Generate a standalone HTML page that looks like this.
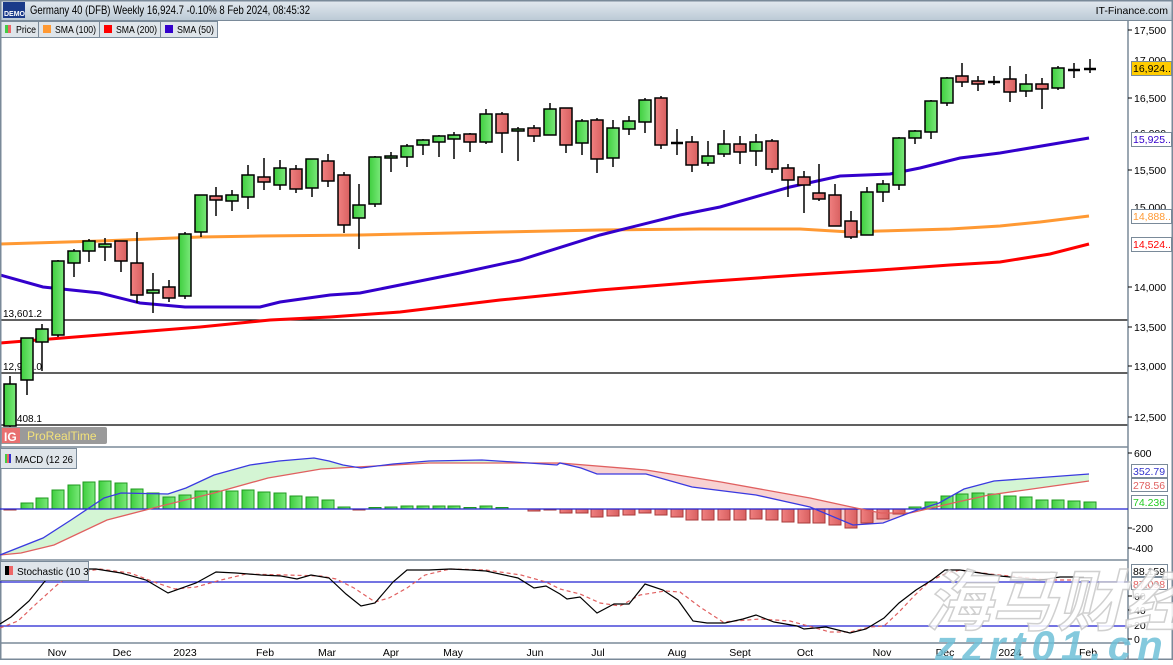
<!DOCTYPE html>
<html><head><meta charset="utf-8"><style>
body{margin:0;width:1173px;height:660px;overflow:hidden;background:#fff;font-family:"Liberation Sans",sans-serif}
svg text{font-family:"Liberation Sans","Noto Sans CJK SC",sans-serif}
</style></head><body>
<svg width="1173" height="660" viewBox="0 0 1173 660" xmlns="http://www.w3.org/2000/svg">
<defs>
<linearGradient id="tb" x1="0" y1="0" x2="0" y2="1"><stop offset="0" stop-color="#e4eaf0"/><stop offset="1" stop-color="#bccad6"/></linearGradient>
<linearGradient id="gg" x1="0" y1="0" x2="1" y2="0"><stop offset="0" stop-color="#3fcf3f"/><stop offset="1" stop-color="#7ae87a"/></linearGradient>
<linearGradient id="rg" x1="0" y1="0" x2="1" y2="0"><stop offset="0" stop-color="#f08080"/><stop offset="1" stop-color="#d86060"/></linearGradient>
<clipPath id="aboveRed"><polygon points="0,447 0,555 21,553 54,545 107,520 161,506 214,493 268,478 321,469 357,467 429,463 557,463 560,463 646,470 721,482 810,498 856,508 881,513 910,513 953,503 989,495 1089,481 1089,447"/></clipPath>
<clipPath id="belowRed"><polygon points="0,560 0,555 21,553 54,545 107,520 161,506 214,493 268,478 321,469 357,467 429,463 557,463 560,463 646,470 721,482 810,498 856,508 881,513 910,513 953,503 989,495 1089,481 1089,560"/></clipPath>
<clipPath id="cm"><rect x="0" y="448" width="76" height="21"/></clipPath>
<clipPath id="cs"><rect x="0" y="561" width="88" height="20"/></clipPath>
</defs>
<!-- title bar -->
<rect x="0" y="0" width="1173" height="20" fill="url(#tb)"/>
<rect x="3" y="2" width="22" height="16" fill="#1a3a8a"/>
<text x="4" y="16" font-size="7" fill="#fff" font-weight="bold">DEMO</text>
<text x="30" y="14" font-size="12" fill="#000" textLength="280" lengthAdjust="spacingAndGlyphs">Germany 40 (DFB) Weekly 16,924.7 -0.10% 8 Feb 2024, 08:45:32</text>
<text x="1168" y="14" font-size="10.5" fill="#000" text-anchor="end">IT-Finance.com</text>
<line x1="0" y1="20.5" x2="1173" y2="20.5" stroke="#7a8a99"/>
<!-- legend -->
<g font-size="10.5" fill="#000">
<rect x="0.5" y="21.5" width="38" height="16" fill="#dfe5ea" stroke="#7a8a99"/><rect x="5" y="25" width="3" height="8" fill="#4c4"/><rect x="8" y="25" width="3" height="8" fill="#e66"/><text x="16" y="33" textLength="20" lengthAdjust="spacingAndGlyphs">Price</text>
<rect x="38.5" y="21.5" width="61" height="16" fill="#dfe5ea" stroke="#7a8a99"/><rect x="43" y="25" width="8" height="8" fill="#f93"/><text x="55" y="33" textLength="41" lengthAdjust="spacingAndGlyphs">SMA (100)</text>
<rect x="99.5" y="21.5" width="61" height="16" fill="#dfe5ea" stroke="#7a8a99"/><rect x="104" y="25" width="8" height="8" fill="#f00"/><text x="116" y="33" textLength="41" lengthAdjust="spacingAndGlyphs">SMA (200)</text>
<rect x="160.5" y="21.5" width="57" height="16" fill="#dfe5ea" stroke="#7a8a99"/><rect x="165" y="25" width="8" height="8" fill="#30c"/><text x="177" y="33" textLength="37" lengthAdjust="spacingAndGlyphs">SMA (50)</text>
</g>
<!-- horizontal levels -->
<g stroke="#000" stroke-width="1.2">
<line x1="0" y1="320" x2="1128" y2="320"/><line x1="0" y1="373" x2="1128" y2="373"/><line x1="0" y1="425" x2="1128" y2="425"/>
</g>
<g font-size="10" fill="#000"><text x="3" y="317">13,601.2</text><text x="3" y="370">12,984.0</text><text x="3" y="422">12,408.1</text></g>
<!-- SMAs -->
<polyline fill="none" stroke="#f00" stroke-width="3" points="0,343 100,335 200,327 270,320 330,317 400,312 500,300 600,290 700,282 800,275 880,270 950,265 1000,262 1050,254 1089,244"/>
<polyline fill="none" stroke="#f93" stroke-width="3" points="0,244 100,241 200,237 260,236 360,235 500,232 600,230 700,229 800,229 850,232 880,231 950,229 1000,226 1040,222 1089,216"/>
<polyline fill="none" stroke="#30c" stroke-width="3" points="0,275 43,287 100,293 140,303 185,307 260,307 280,302 330,295 360,293 400,285 460,273 520,260 600,235 680,215 720,207 790,187 840,176 890,174 920,168 960,158 1000,153 1089,138"/>
<!-- candles -->
<g stroke="#000" stroke-width="1.5">
<line x1="10" y1="376" x2="10" y2="430"/><rect x="4" y="384" width="12" height="42" fill="url(#gg)"/>
<line x1="27" y1="338" x2="27" y2="395"/><rect x="21" y="338" width="12" height="42" fill="url(#gg)"/>
<line x1="42" y1="324" x2="42" y2="371"/><rect x="36" y="329" width="12" height="13" fill="url(#gg)"/>
<line x1="58" y1="260" x2="58" y2="337"/><rect x="52" y="261" width="12" height="74" fill="url(#gg)"/>
<line x1="74" y1="249" x2="74" y2="277"/><rect x="68" y="251" width="12" height="12" fill="url(#gg)"/>
<line x1="89" y1="239" x2="89" y2="262"/><rect x="83" y="241" width="12" height="10" fill="url(#gg)"/>
<line x1="105" y1="238" x2="105" y2="261"/><rect x="99" y="244" width="12" height="3" fill="url(#gg)"/>
<line x1="121" y1="241" x2="121" y2="272"/><rect x="115" y="241" width="12" height="20" fill="url(#rg)"/>
<line x1="137" y1="232" x2="137" y2="303"/><rect x="131" y="263" width="12" height="32" fill="url(#rg)"/>
<line x1="153" y1="273" x2="153" y2="313"/><rect x="147" y="290" width="12" height="3" fill="url(#gg)"/>
<line x1="169" y1="280" x2="169" y2="302"/><rect x="163" y="287" width="12" height="11" fill="url(#rg)"/>
<line x1="185" y1="232" x2="185" y2="299"/><rect x="179" y="234" width="12" height="62" fill="url(#gg)"/>
<line x1="201" y1="195" x2="201" y2="237"/><rect x="195" y="195" width="12" height="37" fill="url(#gg)"/>
<line x1="216" y1="187" x2="216" y2="216"/><rect x="210" y="196" width="12" height="4" fill="url(#rg)"/>
<line x1="232" y1="190" x2="232" y2="211"/><rect x="226" y="195" width="12" height="6" fill="url(#gg)"/>
<line x1="248" y1="165" x2="248" y2="209"/><rect x="242" y="175" width="12" height="22" fill="url(#gg)"/>
<line x1="264" y1="158" x2="264" y2="190"/><rect x="258" y="177" width="12" height="5" fill="url(#rg)"/>
<line x1="280" y1="160" x2="280" y2="190"/><rect x="274" y="168" width="12" height="17" fill="url(#gg)"/>
<line x1="296" y1="165" x2="296" y2="193"/><rect x="290" y="169" width="12" height="20" fill="url(#rg)"/>
<line x1="312" y1="159" x2="312" y2="197"/><rect x="306" y="159" width="12" height="29" fill="url(#gg)"/>
<line x1="328" y1="154" x2="328" y2="187"/><rect x="322" y="161" width="12" height="20" fill="url(#rg)"/>
<line x1="344" y1="172" x2="344" y2="233"/><rect x="338" y="175" width="12" height="50" fill="url(#rg)"/>
<line x1="359" y1="184" x2="359" y2="249"/><rect x="353" y="205" width="12" height="13" fill="url(#gg)"/>
<line x1="375" y1="156" x2="375" y2="207"/><rect x="369" y="157" width="12" height="47" fill="url(#gg)"/>
<line x1="391" y1="152" x2="391" y2="172"/><rect x="385" y="156" width="12" height="2" fill="url(#gg)"/>
<line x1="407" y1="144" x2="407" y2="167"/><rect x="401" y="146" width="12" height="11" fill="url(#gg)"/>
<line x1="423" y1="139" x2="423" y2="155"/><rect x="417" y="140" width="12" height="5" fill="url(#gg)"/>
<line x1="439" y1="135" x2="439" y2="157"/><rect x="433" y="136" width="12" height="6" fill="url(#gg)"/>
<line x1="454" y1="132" x2="454" y2="159"/><rect x="448" y="135" width="12" height="4" fill="url(#gg)"/>
<line x1="470" y1="133" x2="470" y2="152"/><rect x="464" y="134" width="12" height="8" fill="url(#rg)"/>
<line x1="486" y1="109" x2="486" y2="144"/><rect x="480" y="114" width="12" height="28" fill="url(#gg)"/>
<line x1="502" y1="112" x2="502" y2="153"/><rect x="496" y="114" width="12" height="19" fill="url(#rg)"/>
<line x1="518" y1="127" x2="518" y2="161"/><rect x="512" y="129" width="12" height="2" fill="url(#gg)"/>
<line x1="534" y1="125" x2="534" y2="142"/><rect x="528" y="128" width="12" height="8" fill="url(#rg)"/>
<line x1="550" y1="103" x2="550" y2="135"/><rect x="544" y="109" width="12" height="26" fill="url(#gg)"/>
<line x1="566" y1="108" x2="566" y2="153"/><rect x="560" y="108" width="12" height="37" fill="url(#rg)"/>
<line x1="582" y1="119" x2="582" y2="155"/><rect x="576" y="121" width="12" height="22" fill="url(#gg)"/>
<line x1="597" y1="118" x2="597" y2="173"/><rect x="591" y="120" width="12" height="39" fill="url(#rg)"/>
<line x1="613" y1="120" x2="613" y2="167"/><rect x="607" y="128" width="12" height="30" fill="url(#gg)"/>
<line x1="629" y1="116" x2="629" y2="135"/><rect x="623" y="121" width="12" height="8" fill="url(#gg)"/>
<line x1="645" y1="98" x2="645" y2="133"/><rect x="639" y="100" width="12" height="22" fill="url(#gg)"/>
<line x1="661" y1="96" x2="661" y2="149"/><rect x="655" y="98" width="12" height="47" fill="url(#rg)"/>
<line x1="677" y1="129" x2="677" y2="155"/><line x1="671" y1="143" x2="683" y2="143" stroke-width="2.5"/>
<line x1="692" y1="136" x2="692" y2="172"/><rect x="686" y="142" width="12" height="23" fill="url(#rg)"/>
<line x1="708" y1="141" x2="708" y2="166"/><rect x="702" y="156" width="12" height="7" fill="url(#gg)"/>
<line x1="724" y1="130" x2="724" y2="157"/><rect x="718" y="144" width="12" height="10" fill="url(#gg)"/>
<line x1="740" y1="136" x2="740" y2="164"/><rect x="734" y="144" width="12" height="8" fill="url(#rg)"/>
<line x1="756" y1="134" x2="756" y2="166"/><rect x="750" y="142" width="12" height="9" fill="url(#gg)"/>
<line x1="772" y1="139" x2="772" y2="173"/><rect x="766" y="141" width="12" height="28" fill="url(#rg)"/>
<line x1="788" y1="164" x2="788" y2="197"/><rect x="782" y="168" width="12" height="12" fill="url(#rg)"/>
<line x1="804" y1="171" x2="804" y2="213"/><rect x="798" y="177" width="12" height="8" fill="url(#rg)"/>
<line x1="819" y1="164" x2="819" y2="201"/><rect x="813" y="193" width="12" height="6" fill="url(#rg)"/>
<line x1="835" y1="184" x2="835" y2="226"/><rect x="829" y="195" width="12" height="31" fill="url(#rg)"/>
<line x1="851" y1="211" x2="851" y2="239"/><rect x="845" y="221" width="12" height="16" fill="url(#rg)"/>
<line x1="867" y1="187" x2="867" y2="235"/><rect x="861" y="192" width="12" height="43" fill="url(#gg)"/>
<line x1="883" y1="180" x2="883" y2="202"/><rect x="877" y="184" width="12" height="8" fill="url(#gg)"/>
<line x1="899" y1="137" x2="899" y2="190"/><rect x="893" y="138" width="12" height="47" fill="url(#gg)"/>
<line x1="915" y1="130" x2="915" y2="144"/><rect x="909" y="131" width="12" height="7" fill="url(#gg)"/>
<line x1="931" y1="100" x2="931" y2="139"/><rect x="925" y="101" width="12" height="31" fill="url(#gg)"/>
<line x1="947" y1="77" x2="947" y2="106"/><rect x="941" y="78" width="12" height="25" fill="url(#gg)"/>
<line x1="962" y1="63" x2="962" y2="87"/><rect x="956" y="76" width="12" height="6" fill="url(#rg)"/>
<line x1="978" y1="76" x2="978" y2="91"/><rect x="972" y="81" width="12" height="3" fill="url(#rg)"/>
<line x1="994" y1="76" x2="994" y2="85"/><line x1="988" y1="82" x2="1000" y2="82" stroke-width="2.5"/>
<line x1="1010" y1="66" x2="1010" y2="102"/><rect x="1004" y="79" width="12" height="13" fill="url(#rg)"/>
<line x1="1026" y1="74" x2="1026" y2="97"/><rect x="1020" y="84" width="12" height="7" fill="url(#gg)"/>
<line x1="1042" y1="78" x2="1042" y2="109"/><rect x="1036" y="84" width="12" height="5" fill="url(#rg)"/>
<line x1="1058" y1="66" x2="1058" y2="90"/><rect x="1052" y="68" width="12" height="20" fill="url(#gg)"/>
<line x1="1074" y1="63" x2="1074" y2="78"/><line x1="1068" y1="70" x2="1080" y2="70" stroke-width="2.5"/>
<line x1="1090" y1="59" x2="1090" y2="73"/><line x1="1084" y1="69" x2="1096" y2="69" stroke-width="2.5"/>
</g>
<!-- ProRealTime badge -->
<rect x="0" y="427" width="107" height="17" rx="2" fill="#9a9a9a"/>
<rect x="2" y="428" width="18" height="15" fill="#e87070"/>
<text x="4" y="441" font-size="12" fill="#fff" font-weight="bold">IG</text>
<text x="27" y="440" font-size="12" fill="#f3e27a">ProRealTime</text>
<!-- panel separators -->
<g stroke="#7a8a99" stroke-width="1.5">
<line x1="0" y1="447" x2="1128" y2="447"/><line x1="0" y1="560" x2="1128" y2="560"/><line x1="0" y1="643" x2="1128" y2="643"/>
<line x1="1128" y1="20" x2="1128" y2="660"/>
<rect x="0.75" y="0.75" width="1171.5" height="658.5" fill="none"/>
</g>
<!-- MACD fill -->
<polygon clip-path="url(#aboveRed)" fill="#cdf3cd" opacity="0.85" points="0,555 43,538 71,520 104,498 121,493 168,494 186,488 214,475 250,465 279,461 314,458 329,461 343,465 361,468 393,464 429,461 482,460 529,463 557,465 560,463 581,468 597,474 646,474 692,487 756,495 810,507 853,525 883,523 917,510 939,503 964,489 994,481 1089,474 1089,481 989,495 953,503 910,513 881,513 856,508 810,498 721,482 646,470 560,463 557,463 429,463 357,467 321,469 268,478 214,493 161,506 107,520 54,545 21,553 0,555"/>
<polygon clip-path="url(#belowRed)" fill="#f7caca" opacity="0.85" points="0,555 43,538 71,520 104,498 121,493 168,494 186,488 214,475 250,465 279,461 314,458 329,461 343,465 361,468 393,464 429,461 482,460 529,463 557,465 560,463 581,468 597,474 646,474 692,487 756,495 810,507 853,525 883,523 917,510 939,503 964,489 994,481 1089,474 1089,481 989,495 953,503 910,513 881,513 856,508 810,498 721,482 646,470 560,463 557,463 429,463 357,467 321,469 268,478 214,493 161,506 107,520 54,545 21,553 0,555"/>
<!-- MACD histogram -->
<g stroke-width="1" >
<g fill="url(#gg)" stroke="#1f9a1f">
<rect x="21" y="503" width="12" height="6"/><rect x="36" y="498" width="12" height="11"/><rect x="52" y="490" width="12" height="19"/><rect x="68" y="485" width="12" height="24"/><rect x="83" y="482" width="12" height="27"/><rect x="99" y="481" width="12" height="28"/><rect x="115" y="483" width="12" height="26"/><rect x="131" y="489" width="12" height="20"/><rect x="147" y="493" width="12" height="16"/><rect x="163" y="497" width="12" height="12"/><rect x="179" y="495" width="12" height="14"/><rect x="195" y="491" width="12" height="18"/><rect x="210" y="491" width="12" height="18"/><rect x="226" y="491" width="12" height="18"/><rect x="242" y="490" width="12" height="19"/><rect x="258" y="492" width="12" height="17"/><rect x="274" y="493" width="12" height="16"/><rect x="290" y="496" width="12" height="13"/><rect x="306" y="497" width="12" height="12"/><rect x="322" y="500" width="12" height="9"/><rect x="338" y="507" width="12" height="2"/>
<rect x="369" y="507.5" width="12" height="1.5"/><rect x="385" y="507" width="12" height="2"/><rect x="401" y="506" width="12" height="3"/><rect x="417" y="506" width="12" height="3"/><rect x="433" y="506" width="12" height="3"/><rect x="448" y="506" width="12" height="3"/><rect x="464" y="507.5" width="12" height="1.5"/><rect x="480" y="506" width="12" height="3"/><rect x="496" y="507.5" width="12" height="1.5"/>
<rect x="909" y="507" width="12" height="2"/><rect x="925" y="502" width="12" height="7"/><rect x="941" y="496" width="12" height="13"/><rect x="956" y="494" width="12" height="15"/><rect x="972" y="493" width="12" height="16"/><rect x="988" y="494" width="12" height="15"/><rect x="1004" y="496" width="12" height="13"/><rect x="1020" y="497" width="12" height="12"/><rect x="1036" y="500" width="12" height="9"/><rect x="1052" y="500" width="12" height="9"/><rect x="1068" y="501" width="12" height="8"/><rect x="1084" y="502" width="12" height="7"/>
</g>
<g fill="url(#rg)" stroke="#a83a3a">
<rect x="4" y="509" width="12" height="1"/><rect x="353" y="509" width="12" height="1"/><rect x="528" y="509" width="12" height="2"/><rect x="544" y="509" width="12" height="1"/>
<rect x="560" y="509" width="12" height="4"/><rect x="576" y="509" width="12" height="4"/><rect x="591" y="509" width="12" height="8"/><rect x="607" y="509" width="12" height="7"/><rect x="623" y="509" width="12" height="6"/><rect x="639" y="509" width="12" height="4"/><rect x="655" y="509" width="12" height="6"/><rect x="671" y="509" width="12" height="8"/><rect x="686" y="509" width="12" height="11"/><rect x="702" y="509" width="12" height="11"/><rect x="718" y="509" width="12" height="11"/><rect x="734" y="509" width="12" height="11"/><rect x="750" y="509" width="12" height="10"/><rect x="766" y="509" width="12" height="11"/><rect x="782" y="509" width="12" height="13"/><rect x="798" y="509" width="12" height="14"/><rect x="813" y="509" width="12" height="14"/><rect x="829" y="509" width="12" height="16"/><rect x="845" y="509" width="12" height="19"/><rect x="861" y="509" width="12" height="14"/><rect x="877" y="509" width="12" height="10"/><rect x="893" y="509" width="12" height="5"/>
</g>
</g>
<line x1="0" y1="509" x2="1128" y2="509" stroke="#2020d0" stroke-width="1.3"/>
<polyline fill="none" stroke="#e06060" stroke-width="1.3" points="0,555 21,553 54,545 107,520 161,506 214,493 268,478 321,469 357,467 429,463 557,463 560,463 646,470 721,482 810,498 856,508 881,513 910,513 953,503 989,495 1089,481"/>
<polyline fill="none" stroke="#3a3ae0" stroke-width="1.3" points="0,555 43,538 71,520 104,498 121,493 168,494 186,488 214,475 250,465 279,461 314,458 329,461 343,465 361,468 393,464 429,461 482,460 529,463 557,465 560,463 581,468 597,474 646,474 692,487 756,495 810,507 853,525 883,523 917,510 939,503 964,489 994,481 1089,474"/>
<rect x="0.5" y="448.5" width="76" height="20" fill="#dfe5ea" stroke="#7a8a99"/>
<rect x="5" y="454" width="2" height="9" fill="#4c4"/><rect x="7" y="454" width="2" height="9" fill="#e66"/><rect x="9" y="454" width="2" height="9" fill="#33c"/>
<g clip-path="url(#cm)"><text x="15" y="463" font-size="10.5" textLength="66" lengthAdjust="spacingAndGlyphs">MACD (12 26 9</text></g>
<!-- Stochastic -->
<line x1="0" y1="582" x2="1128" y2="582" stroke="#2020d0" stroke-width="1.2"/>
<line x1="0" y1="626" x2="1128" y2="626" stroke="#2020d0" stroke-width="1.2"/>
<polyline fill="none" stroke="#e06060" stroke-width="1.2" stroke-dasharray="4,3" points="0,628 18,621 36,604 57,585 71,574 100,569 130,573 157,583 175,589 196,587 221,580 246,574 286,575 321,576 336,579 354,588 375,602 389,598 407,588 425,575 450,569 486,570 521,575 546,582 560,589 580,594 600,603 620,606 640,595 665,591 680,592 700,607 723,622 760,619 790,621 830,632 850,632 870,627 884,626 899,612 915,595 930,581 945,574 960,570 990,574 1020,577 1050,580 1080,580"/>
<polyline fill="none" stroke="#000" stroke-width="1.2" points="0,624 11,617 29,601 45,581 54,573 61,569 96,569 121,573 146,580 168,593 196,583 216,572 236,573 261,575 281,576 297,579 311,575 329,578 346,594 361,606 375,603 393,582 407,570 429,570 450,569 471,570 486,571 518,578 534,588 546,586 560,594 567,599 580,597 597,613 614,604 629,604 645,584 663,590 678,600 693,621 707,623 725,623 743,619 756,615 774,622 797,626 804,629 826,627 850,633 866,629 884,618 899,603 916,590 932,580 945,570 960,570 980,573 1000,576 1020,578 1040,580 1060,577 1084,577"/>
<rect x="0.5" y="561.5" width="88" height="19" fill="#dfe5ea" stroke="#7a8a99"/>
<rect x="5" y="566" width="4" height="9" fill="#000"/><rect x="9" y="566" width="4" height="9" fill="#e66"/>
<g clip-path="url(#cs)"><text x="17" y="575" font-size="10.5" textLength="80" lengthAdjust="spacingAndGlyphs">Stochastic (10 3 3</text></g>
<!-- right axis -->
<g font-size="10.5" fill="#000" stroke="#000">
<g stroke-width="1"><line x1="1128" y1="30" x2="1132" y2="30"/><line x1="1128" y1="98" x2="1132" y2="98"/><line x1="1128" y1="170" x2="1132" y2="170"/><line x1="1128" y1="287" x2="1132" y2="287"/><line x1="1128" y1="327" x2="1132" y2="327"/><line x1="1128" y1="366" x2="1132" y2="366"/><line x1="1128" y1="417" x2="1132" y2="417"/>
<line x1="1128" y1="453" x2="1132" y2="453"/><line x1="1128" y1="528" x2="1132" y2="528"/><line x1="1128" y1="548" x2="1132" y2="548"/><line x1="1128" y1="596" x2="1132" y2="596"/><line x1="1128" y1="610" x2="1132" y2="610"/><line x1="1128" y1="625" x2="1132" y2="625"/><line x1="1128" y1="639" x2="1132" y2="639"/></g>
<g stroke="none">
<text x="1134" y="34">17,500</text><text x="1134" y="64">17,000</text><text x="1134" y="102">16,500</text><text x="1134" y="137">16,000</text><text x="1134" y="174">15,500</text><text x="1134" y="211">15,000</text><text x="1134" y="291">14,000</text><text x="1134" y="331">13,500</text><text x="1134" y="370">13,000</text><text x="1134" y="421">12,500</text>
<text x="1134" y="457">600</text><text x="1132" y="532">-200</text><text x="1132" y="552">-400</text><text x="1134" y="600">60</text><text x="1134" y="614">40</text><text x="1134" y="629">20</text><text x="1134" y="643">0</text>
</g>
</g>
<g font-size="10.5">
<rect x="1131.5" y="61.5" width="40" height="14" fill="#ffcc00" stroke="#7a8a99"/><text x="1133" y="72" fill="#000">16,924..</text>
<rect x="1131.5" y="132.5" width="40" height="14" fill="#fff" stroke="#7a8a99"/><text x="1133" y="143" fill="#30c">15,925..</text>
<rect x="1131.5" y="209.5" width="40" height="14" fill="#fff" stroke="#7a8a99"/><text x="1133" y="220" fill="#f93">14,888..</text>
<rect x="1131.5" y="237.5" width="40" height="14" fill="#fff" stroke="#7a8a99"/><text x="1133" y="248" fill="#f00">14,524..</text>
<rect x="1131.5" y="464.5" width="36" height="13" fill="#fff" stroke="#7a8a99"/><text x="1133" y="475" fill="#33c">352.79</text>
<rect x="1131.5" y="478.5" width="36" height="13" fill="#fff" stroke="#7a8a99"/><text x="1133" y="489" fill="#e06060">278.56</text>
<rect x="1131.5" y="495.5" width="36" height="13" fill="#fff" stroke="#7a8a99"/><text x="1133" y="506" fill="#2c2">74.236</text>
<rect x="1131.5" y="564.5" width="36" height="12" fill="#fff" stroke="#7a8a99"/><text x="1133" y="575" fill="#000">88.159</text>
<rect x="1131.5" y="577.5" width="36" height="12" fill="#fff" stroke="#7a8a99"/><text x="1133" y="588" fill="#e06060">87.098</text>
</g>
<!-- date axis -->
<g font-size="10.5" fill="#000" text-anchor="middle">
<text x="57" y="656">Nov</text><text x="122" y="656">Dec</text><text x="185" y="656">2023</text><text x="265" y="656">Feb</text><text x="327" y="656">Mar</text><text x="391" y="656">Apr</text><text x="453" y="656">May</text><text x="535" y="656">Jun</text><text x="598" y="656">Jul</text><text x="677" y="656">Aug</text><text x="740" y="656">Sept</text><text x="805" y="656">Oct</text><text x="882" y="656">Nov</text><text x="945" y="656">Dec</text><text x="1010" y="656">2024</text><text x="1088" y="656">Feb</text>
</g>
<!-- watermark -->
<text x="925" y="625" font-size="66" font-style="italic" font-weight="bold" fill="#fff" stroke="#c8c8c8" stroke-width="1.5" opacity="0.85">海马财经</text>
<text x="935" y="660" font-size="42" font-style="italic" font-weight="bold" fill="#6fc0d8" opacity="0.85" letter-spacing="6">zzrt01.cn</text>
</svg>
</body></html>
